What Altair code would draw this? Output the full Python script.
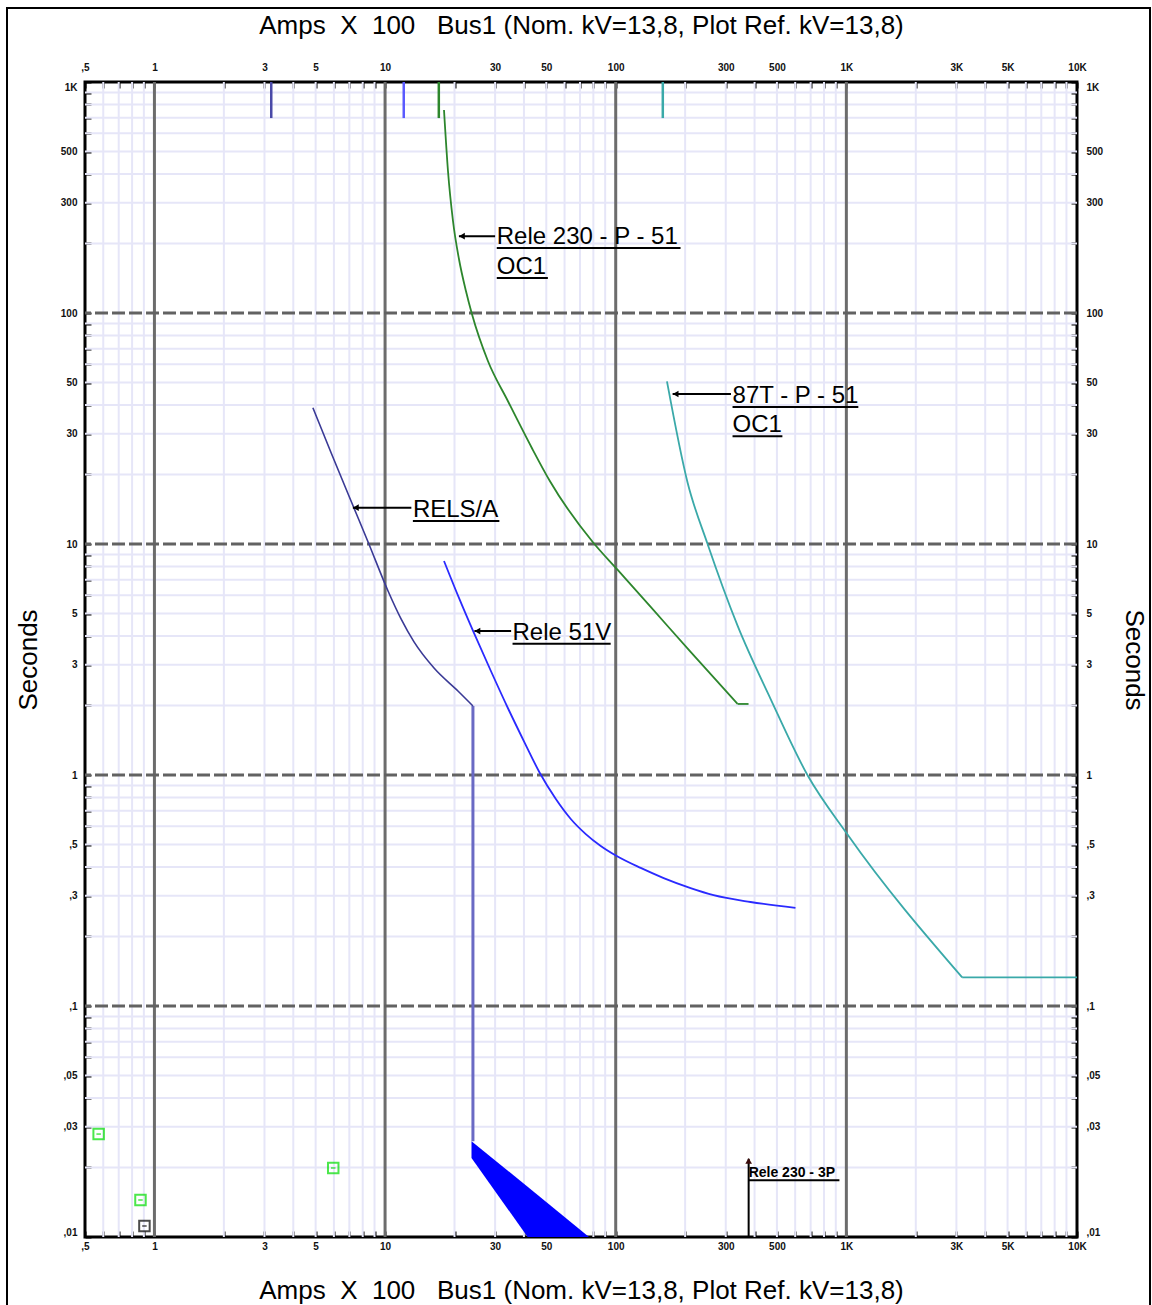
import altair as alt
import pandas as pd

FONT = "Liberation Sans"
NB = "\u00a0"
X_TITLE = f"Amps{NB}{NB}X{NB}{NB}100{NB}{NB}{NB}Bus1 (Nom. kV=13,8, Plot Ref. kV=13,8)"
Y_TITLE = "Seconds"

# ---------------- axis labels ----------------
x_label_vals = [0.5, 1, 3, 5, 10, 30, 50, 100, 300, 500, 1000, 3000, 5000, 10000]
x_label_text = [",5", "1", "3", "5", "10", "30", "50", "100", "300", "500", "1K", "3K", "5K", "10K"]
y_label_vals = [0.01, 0.03, 0.05, 0.1, 0.3, 0.5, 1, 3, 5, 10, 30, 50, 100, 300, 500, 1000]
y_label_text = [",01", ",03", ",05", ",1", ",3", ",5", "1", "3", "5", "10", "30", "50", "100", "300", "500", "1K"]

x_ticks = [round(m * 10.0 ** e, 4) for e in range(-1, 4) for m in range(1, 10) if m * 10.0 ** e >= 0.5] + [10000]
y_ticks = [round(m * 10.0 ** e, 4) for e in range(-2, 3) for m in range(1, 10)] + [1000]
x_major = [1, 10, 100, 1000]
y_major = [0.1, 1, 10, 100]
x_minor = [v for v in x_ticks if v not in x_major and v not in (0.5, 10000)]
y_minor = [v for v in y_ticks if v not in y_major and v not in (0.01, 1000)]

# ---------------- curves ----------------
# Rele 230 - P - 51 (green)
green_x = [18.01, 18.74, 19.70, 20.91, 22.42, 23.80, 27.92, 34.07, 43.29, 51.81, 79.5, 102.0, 141.8, 211.2, 337.5]
green_y = [756.6, 411.9, 250.2, 171.3, 124.5, 99.0, 61.97, 41.6, 26.04, 18.74, 10.2, 7.72, 5.34, 3.41, 2.03]
green_flat_x = [337.5, 376.6]
green_flat_y = [2.03, 2.03]

# 87T - P - 51 (teal)
teal_x = [166.8, 205.0, 250.2, 337.5, 470.2, 678.0, 1010, 3178]
teal_y = [50.6, 18.42, 10.0, 4.43, 2.125, 1.0, 0.554, 0.133]
teal_flat_x = [3178, 10000]
teal_flat_y = [0.133, 0.133]

# RELS/A (dark blue)
rels_x = [4.864, 5.84, 7.27, 8.44, 10.30, 11.73, 13.35, 16.30, 20.70, 24.04]
rels_y = [38.9, 24.77, 14.60, 10.2, 6.26, 4.74, 3.77, 2.905, 2.31, 1.99]
rels_v_x = [24.04, 24.04]
rels_v_y = [1.99, 0.026]

# Rele 51V (blue)
r51v_x = [18.01, 20.91, 24.28, 28.76, 34.07, 40.36, 46.88, 55.01, 63.86, 74.17, 86.12, 101.0,
          128.3, 161.4, 211.2, 265.6, 384.1, 601.6]
r51v_y = [8.44, 5.84, 4.12, 2.82, 1.95, 1.375, 1.02, 0.787, 0.645, 0.555, 0.493, 0.446,
          0.396, 0.358, 0.324, 0.302, 0.282, 0.266]

band_x = [23.7, 41.5, 76.6]
band_lo = [0.022, 0.01, 0.01]
band_hi = [0.026, 0.0165, 0.01]

# short pickup markers at the top
mark_x = [3.21, 12.05, 17.1, 160]
mark_col = ["#4a4aa8", "#5a5aff", "#2d862d", "#3aa9a9"]
mark_top = 1000
mark_bot = 698

# small symbols at the bottom-left
sym_x = [0.573, 0.870, 5.96]
sym_y = [0.0279, 0.01446, 0.0199]
blk_x = [0.905]
blk_y = [0.01116]

# ---------------- annotations ----------------
ann_text = ["Rele 230 - P - 51", "OC1", "87T - P - 51", "OC1", "RELS/A", "Rele 51V"]
ann_x = [30.5, 30.5, 321, 321, 13.2, 35.7]
ann_uy = [191, 141.7, 39.2, 29.3, 12.58, 3.70]
ann_ux2 = [191, 50.8, 1127, 528, 31.3, 95.1]

arr_tip_x = [20.9, 176.5, 7.25, 24.4]
arr_tip_y = [215, 44.6, 14.36, 4.20]
arr_end_x = [30.0, 316, 13.0, 35.2]

small_text = ["Rele 230 - 3P"]
small_x = [377]
small_uy = [0.0176]
small_ux2 = [933]
small_top = [0.0218]
small_bot = [0.01]

# ---------------- chart ----------------
W, H = 992, 1155
xs = alt.Scale(type="log", domain=[0.5, 10000], nice=False)
ys = alt.Scale(type="log", domain=[0.01, 1000], nice=False)


def lexpr(vals, texts):
    return " : ".join(f"datum.value == {v} ? '{t}'" for v, t in zip(vals, texts)) + " : ''"


common = dict(tickSize=6, tickWidth=2, tickColor="black", offset=-6, domain=False, grid=False,
              labelFont=FONT, labelFontSize=10, labelFontWeight="bold", labelColor="#111",
              labelOverlap=False, titleFont=FONT, titleFontSize=26, titleFontWeight="normal",
              titleColor="black", titleAlign="center", titleBaseline="middle")

ax_bottom = alt.Axis(orient="bottom", values=x_ticks, labelExpr=lexpr(x_label_vals, x_label_text),
                     labelFlush=False, labelPadding=4, title=X_TITLE, titleX=W / 2, titleY=59,
                     titleAngle=0, **common)
ax_top = alt.Axis(orient="top", values=x_ticks, labelExpr=lexpr(x_label_vals, x_label_text),
                  labelFlush=False, labelPadding=10, title=X_TITLE, titleX=W / 2, titleY=-63,
                  titleAngle=0, **common)
ax_left = alt.Axis(orient="left", values=y_ticks, labelExpr=lexpr(y_label_vals, y_label_text),
                   labelFlush=True, labelPadding=8, title=Y_TITLE, titleX=-63, titleY=H / 2,
                   titleAngle=270, **common)
ax_right = alt.Axis(orient="right", values=y_ticks, labelExpr=lexpr(y_label_vals, y_label_text),
                    labelFlush=True, labelPadding=9, title=Y_TITLE, titleX=62, titleY=H / 2,
                    titleAngle=90, **common)

vminor = alt.Chart(pd.DataFrame({"v": x_minor})).mark_rule(color="#e6e6f8", strokeWidth=2).encode(
    x=alt.X("v:Q", scale=xs, axis=ax_bottom))
hminor = alt.Chart(pd.DataFrame({"v": y_minor})).mark_rule(color="#e6e6f8", strokeWidth=2).encode(
    y=alt.Y("v:Q", scale=ys, axis=ax_left))
vmajor = alt.Chart(pd.DataFrame({"v": x_major})).mark_rule(color="#6c6c6c", strokeWidth=3).encode(
    x=alt.X("v:Q", scale=xs, axis=ax_top))
hmajor = alt.Chart(pd.DataFrame({"v": y_major})).mark_rule(
    color="#626262", strokeWidth=3, strokeDash=[13, 4]).encode(
    y=alt.Y("v:Q", scale=ys, axis=ax_right))


def X(f="x"):
    return alt.X(f"{f}:Q", scale=xs, axis=None)


def Y(f="y"):
    return alt.Y(f"{f}:Q", scale=ys, axis=None)


def curve(xv, yv, color, width, interp="monotone"):
    df = pd.DataFrame({"x": xv, "y": yv, "i": list(range(len(xv)))})
    return alt.Chart(df).mark_line(color=color, strokeWidth=width, interpolate=interp).encode(
        x=X(), y=Y(), order="i:Q")


green = curve(green_x, green_y, "#2d862d", 1.8)
green_f = curve(green_flat_x, green_flat_y, "#2d862d", 1.8, "linear")
teal = curve(teal_x, teal_y, "#3aa9a9", 1.8)
teal_f = curve(teal_flat_x, teal_flat_y, "#3aa9a9", 1.8, "linear")
rels = curve(rels_x, rels_y, "#3a3a96", 1.6)
rels_v = curve(rels_v_x, rels_v_y, "#6a6ac4", 3, "linear")
r51v = curve(r51v_x, r51v_y, "#2a2aff", 1.8)

band = alt.Chart(pd.DataFrame({"x": band_x, "lo": band_lo, "hi": band_hi})).mark_area(
    color="#0000ff", opacity=1).encode(x=X(), y=Y("lo"), y2="hi:Q")

markers = alt.Chart(pd.DataFrame({"x": mark_x, "c": mark_col, "t": [mark_top] * 4, "b": [mark_bot] * 4})).mark_rule(
    strokeWidth=2.5).encode(x=X(), y=Y("t"), y2="b:Q", color=alt.Color("c:N", scale=None))

syms = alt.Chart(pd.DataFrame({"x": sym_x, "y": sym_y})).mark_point(
    shape="square", filled=False, color="#00dd00", strokeWidth=2, size=110).encode(x=X(), y=Y())
syms_in = alt.Chart(pd.DataFrame({"x": sym_x, "y": sym_y})).mark_point(
    shape="stroke", color="#00dd00", strokeWidth=1.5, size=20).encode(x=X(), y=Y())
blk = alt.Chart(pd.DataFrame({"x": blk_x, "y": blk_y})).mark_point(
    shape="square", filled=False, color="black", strokeWidth=2, size=110).encode(x=X(), y=Y())
blk_in = alt.Chart(pd.DataFrame({"x": blk_x, "y": blk_y})).mark_point(
    shape="stroke", color="black", strokeWidth=1.5, size=20).encode(x=X(), y=Y())

ann_df = pd.DataFrame({"x": ann_x, "uy": ann_uy, "ux2": ann_ux2, "t": ann_text})
ann_txt = alt.Chart(ann_df).mark_text(align="left", baseline="alphabetic", dy=-4, font=FONT,
                                      fontSize=24, color="black").encode(x=X(), y=Y("uy"), text="t:N")
ann_ul = alt.Chart(ann_df).mark_rule(color="black", strokeWidth=2).encode(x=X(), x2="ux2:Q", y=Y("uy"))

arr_df = pd.DataFrame({"x": arr_tip_x, "y": arr_tip_y, "x2": arr_end_x})
arr_line = alt.Chart(arr_df).mark_rule(color="black", strokeWidth=2).encode(x=X(), x2="x2:Q", y=Y())
arr_head = alt.Chart(arr_df).mark_point(shape="triangle-left", filled=True, color="black", size=45,
                                        xOffset=3, opacity=1).encode(x=X(), y=Y())

sm_df = pd.DataFrame({"x": small_x, "uy": small_uy, "ux2": small_ux2, "t": small_text,
                      "top": small_top, "bot": small_bot})
sm_txt = alt.Chart(sm_df).mark_text(align="left", baseline="alphabetic", dy=-3, font=FONT, fontSize=14,
                                    fontWeight="bold", color="black").encode(x=X(), y=Y("uy"), text="t:N")
sm_ul = alt.Chart(sm_df).mark_rule(color="black", strokeWidth=2).encode(x=X(), x2="ux2:Q", y=Y("uy"))
sm_vl = alt.Chart(sm_df).mark_rule(color="black", strokeWidth=2).encode(x=X(), y=Y("top"), y2="bot:Q")
sm_head = alt.Chart(sm_df).mark_point(shape="triangle-up", filled=True, color="#3a0a0a", size=45,
                                      yOffset=2, opacity=1).encode(x=X(), y=Y("top"))

border = alt.Chart(pd.DataFrame({"a": [0]})).mark_rect(fill="transparent", stroke="black", strokeWidth=2).encode(
    x=alt.value(-78), x2=alt.value(1065), y=alt.value(-74), y2=alt.value(1260))

chart = alt.layer(
    vminor, hminor, vmajor, hmajor,
    markers, band, rels_v, rels, r51v, green, green_f, teal, teal_f,
    syms, syms_in, blk, blk_in,
    arr_line, arr_head, ann_ul, ann_txt,
    sm_vl, sm_head, sm_ul, sm_txt,
    border,
).resolve_axis(x="independent", y="independent").properties(
    width=W, height=H,
    autosize=alt.AutoSizeParams(type="none"),
    padding={"left": 85, "top": 82, "right": 75, "bottom": 68},
    background="white",
).configure_view(stroke="black", strokeWidth=3)

chart.save("out.html", embed_options={"renderer": "svg", "actions": False})
